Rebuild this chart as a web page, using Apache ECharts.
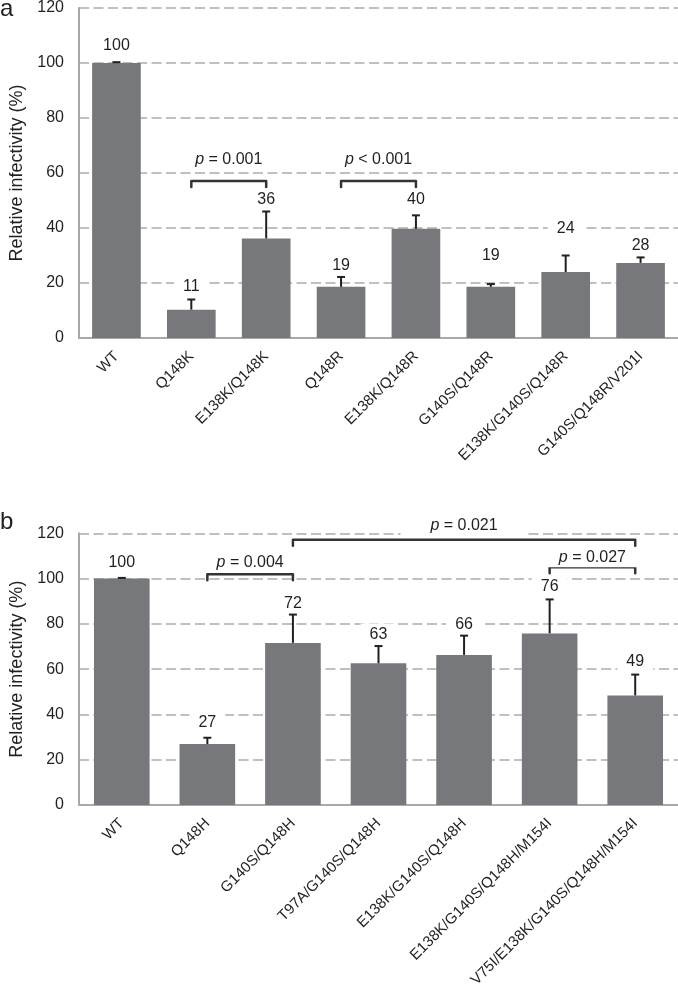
<!DOCTYPE html>
<html><head><meta charset="utf-8">
<script src="https://cdn.jsdelivr.net/npm/echarts@6/dist/echarts.min.js"></script>
<style>html,body{margin:0;padding:0;background:#fff}#c{width:678px;height:997px}</style>
</head><body><div id="c"></div>
<script>
// ---------- Panel a data ----------
const catA = ['WT','Q148K','E138K/Q148K','Q148R','E138K/Q148R','G140S/Q148R','E138K/G140S/Q148R','G140S/Q148R/V201I'];
const valA = [100, 10.3, 36.2, 18.6, 39.7, 18.6, 24.0, 27.3];
const errA = [0.3, 3.7, 9.8, 3.6, 4.9, 1.0, 6.0, 2.0];
const lblA = ['100','11','36','19','40','19','24','28'];
const lblYA = [106.3, 18.6, 50.3, 26.5, 50.3, 30.1, 39.8, 33.7];
// [from index, to index, bracket level, text level, operator, p value]
const pA = [[1,2,57.1,64.9,'=','0.001'],[3,4,57.1,64.9,'<','0.001']];

// ---------- Panel b data ----------
const catB = ['WT','Q148H','G140S/Q148H','T97A/G140S/Q148H','E138K/G140S/Q148H','E138K/G140S/Q148H/M154I','V75I/E138K/G140S/Q148H/M154I'];
const valB = [100, 26.9, 71.6, 62.6, 66.3, 75.8, 48.4];
const errB = [0.3, 2.8, 12.5, 7.6, 8.5, 15.0, 9.2];
const lblB = ['100','27','72','63','66','76','49'];
const lblYB = [107.0, 36.3, 88.9, 75.3, 79.8, 96.6, 63.4];
const pB = [[1,2,101.9,107.2,'=','0.004'],[2,6,117.2,123.5,'=','0.021'],[5,6,105.0,109.4,'=','0.027']];

const yMin = 0, yMax = 120, yStep = 20;
const yName = 'Relative infectivity (%)';

const FONT = '"Liberation Sans", Arial, sans-serif';
const TXT = '#231f20';
const BAR = '#77787b';

const chart = echarts.init(document.getElementById('c'), null, {renderer:'canvas'});

function yAxis(g){
  return {gridIndex:g, type:'value', min:yMin, max:yMax, interval:yStep,
    axisLine:{show:true, lineStyle:{color:'#a9a9a9', width:2}},
    axisTick:{show:false},
    axisLabel:{fontSize:16, color:TXT, margin:15, fontFamily:FONT},
    splitLine:{lineStyle:{color:'#c0c0c0', width:2, type:[10,4.5]}},
    name:yName, nameLocation:'middle', nameGap:53,
    nameTextStyle:{fontSize:18, color:TXT, fontFamily:FONT}};
}
function xAxis(g, cats){
  return {gridIndex:g, type:'category', data:cats,
    axisLine:{lineStyle:{color:'#a9a9a9', width:2}},
    axisTick:{show:false},
    axisLabel:{rotate:45, interval:0, fontSize:15, margin:16, color:TXT, fontFamily:FONT}};
}
function barSeries(g, vals){
  return {type:'bar', xAxisIndex:g, yAxisIndex:g, data:vals, barCategoryGap:'35%',
    itemStyle:{color:BAR}, z:2, silent:true};
}
function labelSeries(g, ys, texts){
  return {type:'custom', xAxisIndex:g, yAxisIndex:g, z:3, clip:false, silent:true,
    data: ys.map((y,i)=>[i,y]), encode:{x:0,y:1},
    renderItem:function(params, api){
      const p = api.coord([api.value(0), api.value(1)]);
      return {type:'text', x:p[0], y:p[1], style:{text:texts[params.dataIndex], fill:TXT,
        fontSize:16, fontFamily:FONT, align:'center', verticalAlign:'middle',
        backgroundColor:'#fff', padding:[3,9]}};
    }};
}
function errSeries(g, vals, errs){
  return {type:'custom', xAxisIndex:g, yAxisIndex:g, z:4, clip:false, silent:true,
    data: vals.map((v,i)=>[i,v,errs[i]]), encode:{x:0,y:1},
    renderItem:function(params, api){
      const x = api.value(0), v = api.value(1), e = api.value(2);
      const p0 = api.coord([x, v]), p1 = api.coord([x, v+e]);
      const st = {stroke:'#231f20', lineWidth:2};
      return {type:'group', children:[
        {type:'line', shape:{x1:p0[0], y1:p0[1], x2:p1[0], y2:p1[1]}, style:st},
        {type:'line', shape:{x1:p1[0]-4, y1:p1[1], x2:p1[0]+4, y2:p1[1]}, style:st}
      ]};
    }};
}
function bracketSeries(g, list){
  return {type:'custom', xAxisIndex:g, yAxisIndex:g, z:5, clip:false, silent:true,
    data: list.map(d=>[d[0], d[1], d[2], d[3]]), encode:{x:[0,1], y:[2,3]},
    renderItem:function(params, api){
      const d = list[params.dataIndex];
      const a = api.coord([d[0], d[2]]), b = api.coord([d[1], d[2]]);
      const t = api.coord([d[0], d[3]]);
      const drop = 6;
      return {type:'group', children:[
        {type:'polyline', shape:{points:[[a[0],a[1]+drop],[a[0],a[1]],[b[0],b[1]],[b[0],b[1]+drop]]},
          style:{stroke:'#333333', lineWidth:2.5, fill:null, lineJoin:'round', lineCap:'round'}},
        {type:'text', x:(a[0]+b[0])/2, y:t[1], style:{text:'{i|p} ' + d[4] + ' ' + d[5],
          fill:TXT, fontSize:16, fontFamily:FONT, align:'center', verticalAlign:'middle',
          backgroundColor:'#fff', padding:[2,30],
          rich:{i:{fontStyle:'italic', fontSize:16, fontFamily:FONT, fill:TXT}}}}
      ]};
    }};
}

chart.setOption({
  animation:false,
  backgroundColor:'#fff',
  textStyle:{fontFamily:FONT},
  grid:[
    {left:74, right:0, top:7.3, height:330.7},
    {left:74, right:0, top:533.3, height:271.7}
  ],
  xAxis:[xAxis(0, catA), xAxis(1, catB)],
  yAxis:[yAxis(0), yAxis(1)],
  graphic:[
    {type:'text', x:0, y:9, style:{text:'a', fontSize:24, fontFamily:FONT, fill:TXT, verticalAlign:'middle'}},
    {type:'text', x:0, y:522, style:{text:'b', fontSize:24, fontFamily:FONT, fill:TXT, verticalAlign:'middle'}}
  ],
  series:[
    barSeries(0, valA), labelSeries(0, lblYA, lblA), errSeries(0, valA, errA), bracketSeries(0, pA),
    barSeries(1, valB), labelSeries(1, lblYB, lblB), errSeries(1, valB, errB), bracketSeries(1, pB)
  ]
});
</script></body></html>
